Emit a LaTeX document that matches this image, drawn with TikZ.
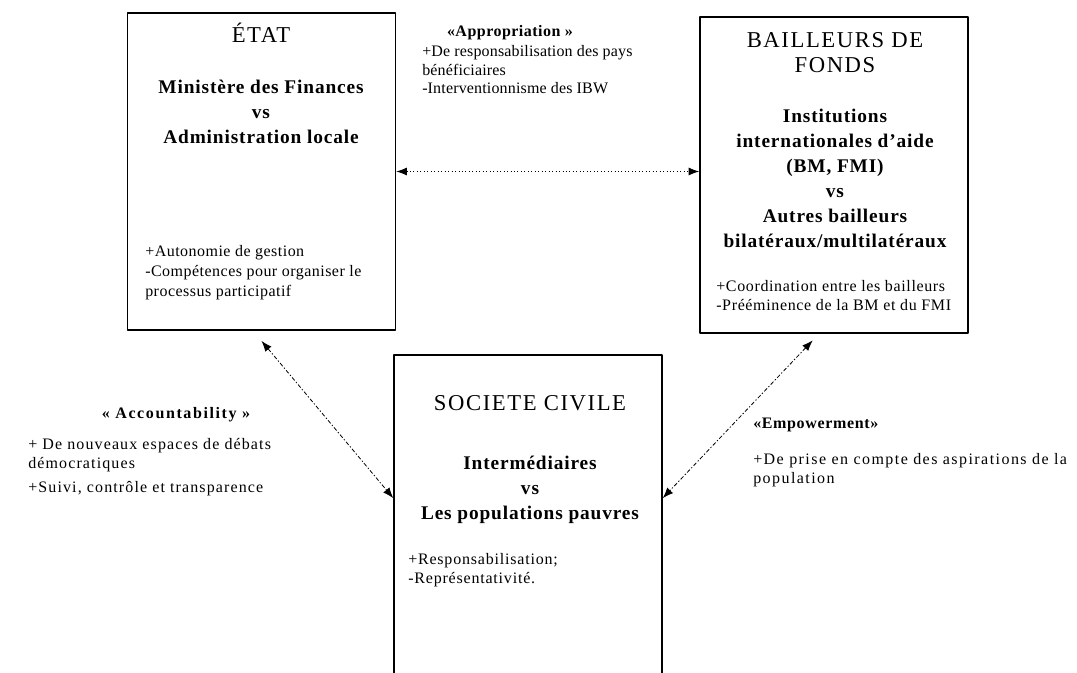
\documentclass[tikz,border=0pt]{standalone}
\usepackage{fontspec}
\setmainfont{Liberation Serif}
\usetikzlibrary{arrows.meta}

\begin{document}
\begin{tikzpicture}[
    x=0.75pt,
    y=-0.75pt,
    line join=round,
    cadre/.style={draw, line width=1.1pt, inner sep=0pt, minimum width=201pt},
    titre/.style={font=\fontsize{17}{18.75}\selectfont\addfontfeatures{LetterSpace=7}, align=center, inner sep=0pt},
    entete/.style={font=\bfseries\fontsize{14.5}{18.75}\selectfont\addfontfeatures{LetterSpace=4.5}, align=center, inner sep=0pt},
    corps/.style={font=\fontsize{12}{14}\selectfont\addfontfeatures{LetterSpace=#1}, align=left, inner sep=0pt},
    corps/.default=6,
    enjeu/.style={font=\bfseries\fontsize{12}{14}\selectfont\addfontfeatures{LetterSpace=#1}, inner sep=0pt},
    enjeu/.default=2,
    lien/.style={<->, >={Latex[length=8pt,width=6pt]}, line width=0.6pt},
    tiret/.style={dash pattern=on 3pt off 1.5pt on 1pt off 1.5pt}
]
    \useasboundingbox (0,0) rectangle (1077,673);
    \clip (0,0) rectangle (1077,673);

    % les trois acteurs
    \node[cadre, minimum height=238pt] (etat) at (261.5,171.5) {};
    \node[cadre, minimum height=237pt] (bailleurs) at (834,175) {};
    \node[cadre, minimum height=259pt] (societe) at (528,527.5) {};

    % Etat
    \node[titre, anchor=base] (etattitre) at (261,43) {ÉTAT};
    \node[entete, anchor=north] (etatentete) at (261,80)
        {Ministère des Finances\\vs\\Administration locale};
    \node[corps, anchor=north west, font=\fontsize{12}{15}\selectfont\addfontfeatures{LetterSpace=3}] (etatcorps) at (145,245)
        {+Autonomie de gestion\\-Compétences pour organiser le\\processus participatif};

    % bailleurs de fonds
    \node[titre, anchor=north] (baiTitre) at (835,32) {BAILLEURS DE\\FONDS};
    \node[entete, anchor=north] (baiEntete) at (835,109)
        {Institutions\\internationales d'aide\\(BM, FMI)\\vs\\Autres bailleurs\\bilatéraux/multilatéraux};
    \node[corps=4, anchor=north west] (baiCorps) at (716,280)
        {+Coordination entre les bailleurs\\-Prééminence de la BM et du FMI};

    % societe civile
    \node[titre] (socTitre) at (530,403) {SOCIETE CIVILE};
    \node[entete, anchor=north] (socEntete) at (530,456)
        {Intermédiaires\\vs\\Les populations pauvres};
    \node[corps=5, anchor=north west] (socCorps) at (408,553)
        {+Responsabilisation;\\-Représentativité.};

    % appropriation
    \node[enjeu=3] (approTitre) at (510,33) {«Appropriation »};
    \node[corps=1, anchor=north west] (approCorps) at (422,45)
        {+De responsabilisation des pays\\bénéficiaires\\-Interventionnisme des IBW};

    % accountability
    \node[enjeu=10] (accTitre) at (176,415) {« Accountability »};
    \node[corps=7, anchor=north west] (accCorps) at (28,438)
        {+ De nouveaux espaces de débats\\démocratiques\\[4pt]+Suivi, contrôle et transparence};

    % empowerment
    \node[enjeu=4, anchor=west] (empTitre) at (753,425) {«Empowerment»};
    \node[corps=9, anchor=north west] (empCorps) at (753,453)
        {+De prise en compte des aspirations de la\\population};

    % les relations
    \draw[lien, dotted] (etat.east) -- (etat.east -| bailleurs.west);
    \draw[lien, tiret] ([yshift=-7.5pt]etat.south) -- ([yshift=22pt]societe.west);
    \draw[lien, tiret] ([xshift=-16pt,yshift=-5pt]bailleurs.south) -- ([yshift=22pt]societe.east);

\end{tikzpicture}
\end{document}
